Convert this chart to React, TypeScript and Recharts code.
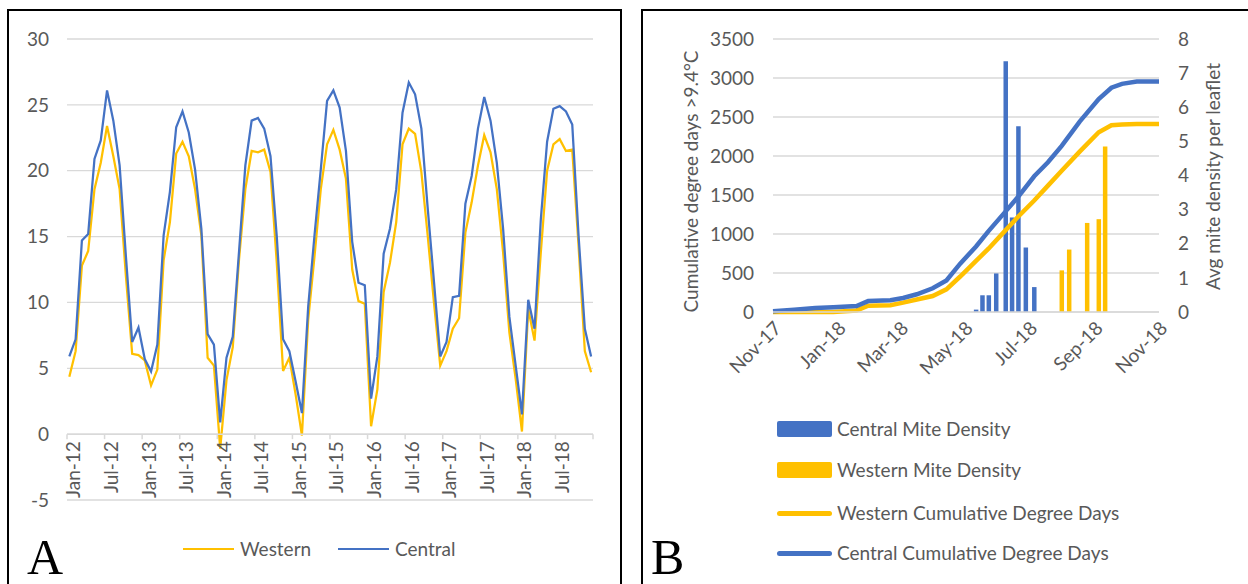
import React from 'react';
import { ComposedChart, LineChart, Line, Bar, XAxis, YAxis, CartesianGrid, Label } from 'recharts';

const TEXT = '#595959';
const GRID = '#d9d9d9';
const BLUE = '#4472C4';
const GOLD = '#FFC000';
const FONT = 'Lato, "Open Sans", sans-serif';
const FS = 19;

// ---------- Panel A data ----------
const monthTickLabels = ['Jan-12', 'Jul-12', 'Jan-13', 'Jul-13', 'Jan-14', 'Jul-14', 'Jan-15', 'Jul-15', 'Jan-16', 'Jul-16', 'Jan-17', 'Jul-17', 'Jan-18', 'Jul-18'];
const westernTemp = [
  4.35, 6.3, 12.8, 13.9, 18.6, 20.6, 23.4, 21.1, 18.6, 12.0,
  6.1, 6.0, 5.6, 3.7, 4.9, 13.2, 16.1, 21.3, 22.2, 21.1,
  18.6, 15.1, 5.8, 5.2, -1.1, 4.1, 6.6, 13.3, 18.6, 21.5,
  21.4, 21.6, 19.9, 13.0, 4.8, 5.8, 3.0, -0.1, 8.7, 13.5,
  18.6, 22.0, 23.1, 21.6, 19.4, 12.5, 10.1, 9.9, 0.6, 3.4,
  10.8, 13.0, 16.1, 22.0, 23.2, 22.8, 19.9, 15.1, 10.0, 5.2,
  6.3, 8.0, 8.8, 15.3, 17.6, 20.4, 22.7, 21.4, 18.6, 13.8,
  7.7, 4.2, 0.2, 9.5, 7.1, 13.8, 20.0, 22.0, 22.4, 21.5,
  21.6, 14.3, 6.3, 4.7,
];
const centralTemp = [
  5.9, 7.2, 14.7, 15.2, 20.9, 22.3, 26.1, 23.8, 20.4, 13.5,
  7.0, 8.1, 5.7, 4.75, 6.8, 15.1, 18.4, 23.3, 24.5, 22.9,
  20.1, 15.6, 7.6, 6.8, 0.9, 5.8, 7.4, 13.9, 20.4, 23.8,
  24.0, 23.2, 21.1, 15.0, 7.2, 6.3, 4.0, 1.6, 9.7, 15.1,
  20.1, 25.3, 26.1, 24.8, 21.5, 14.6, 11.5, 11.3, 2.7, 5.9,
  13.7, 15.6, 18.6, 24.4, 26.7, 25.8, 23.2, 17.2, 11.6, 5.9,
  7.0, 10.4, 10.5, 17.5, 19.6, 23.2, 25.6, 23.8, 20.6, 15.6,
  8.9, 5.2, 1.5, 10.2, 8.0, 16.3, 22.2, 24.7, 24.9, 24.5,
  23.5, 15.1, 8.0, 5.9,
];
const tempTicks = [-5, 0, 5, 10, 15, 20, 25, 30];

// ---------- Panel B data ----------
const dayTicks = [0, 61, 120, 181, 242, 304, 365];
const dayTickLabels = ['Nov-17', 'Jan-18', 'Mar-18', 'May-18', 'Jul-18', 'Sep-18', 'Nov-18'];
const cumDays = [0, 20, 40, 57, 79, 90, 111, 123, 136, 151, 164, 177, 192, 204, 220, 232, 247, 260, 273, 290, 308, 320, 330, 344, 365];
const centralCum = [10, 30, 50, 60, 77, 140, 150, 180, 227, 304, 405, 620, 840, 1040, 1290, 1480, 1740, 1920, 2130, 2441, 2730, 2875, 2925, 2955, 2955];
const westernCum = [0, 0, 0, 0, 20, 80, 88, 120, 160, 205, 290, 455, 655, 815, 1050, 1225, 1430, 1620, 1810, 2056, 2305, 2395, 2405, 2411, 2411];
const centralMiteDays = [192, 198, 204, 211, 220, 226, 232, 239, 247];
const centralMite = [0.07, 0.49, 0.49, 1.13, 7.35, 2.77, 5.44, 1.89, 0.73];
const westernMiteDays = [273, 280, 297, 308, 314];
const westernMite = [1.22, 1.83, 2.61, 2.72, 4.85];
const ddTicks = [0, 500, 1000, 1500, 2000, 2500, 3000, 3500];
const miteTicks = [0, 1, 2, 3, 4, 5, 6, 7, 8];

// ---------- tables ----------
const tempData = centralTemp.map((c, i) => ({ m: i, Western: westernTemp[i], Central: c }));
const monthTicks = Array.from({ length: monthTickLabels.length + 1 }, (_, k) => k * 6);

type Row = { day: number; cc?: number; wc?: number; cm?: number; wm?: number };
const rowMap = new Map<number, Row>();
const getRow = (d: number) => {
  if (!rowMap.has(d)) rowMap.set(d, { day: d });
  return rowMap.get(d) as Row;
};
cumDays.forEach((d, i) => { const r = getRow(d); r.cc = centralCum[i]; r.wc = westernCum[i]; });
centralMiteDays.forEach((d, i) => { getRow(d).cm = centralMite[i]; });
westernMiteDays.forEach((d, i) => { getRow(d).wm = westernMite[i]; });
const bData = Array.from(rowMap.values()).sort((a, b) => a.day - b.day);

// ---------- layout ----------
const A_W = 620;
const A_H = 584;
const A_M = { top: 39, right: 27, bottom: 84, left: 17 };
const A_YW = 50;
const A_yMin = -5;
const A_yMax = 30;
const A_zeroY = A_M.top + ((A_H - A_M.top - A_M.bottom) * (A_yMax - 0)) / (A_yMax - A_yMin);
const A_XH = 70;

const B_LEFT = 640;
const B_W = 600;
const B_H = 584;
const B_M = { top: 39, right: 21, bottom: 212, left: 73 };
const B_YW = 60;

const tickStyle = { fill: TEXT, fontSize: FS, fontFamily: FONT };

const LeftTitle = (props: any) => {
  const vb = props.viewBox || { x: 0, y: 0, width: 0, height: 0 };
  const cx = vb.x - 23;
  const cy = vb.y + vb.height / 2 + 6;
  return (
    <text x={cx} y={cy} transform={`rotate(-90, ${cx}, ${cy})`} textAnchor="middle" dominantBaseline="central" fill={TEXT} fontSize={FS} fontFamily={FONT}>
      Cumulative degree days &gt;9.4°C
    </text>
  );
};
const RightTitle = (props: any) => {
  const vb = props.viewBox || { x: 0, y: 0, width: 0, height: 0 };
  const cx = vb.x + 53;
  const cy = vb.y + vb.height / 2 + 1;
  return (
    <text x={cx} y={cy} transform={`rotate(-90, ${cx}, ${cy})`} textAnchor="middle" dominantBaseline="central" fill={TEXT} fontSize={FS} fontFamily={FONT}>
      Avg mite density per leaflet
    </text>
  );
};

const legendText: React.CSSProperties = { color: TEXT, fontSize: FS, fontFamily: FONT, whiteSpace: 'nowrap', lineHeight: '22px' };

export default function App() {
  return (
    <div style={{ position: 'absolute', left: 0, top: 0, width: 1248, height: 584, background: '#fff', overflow: 'hidden', fontFamily: FONT }}>
      {/* Panel A frame */}
      <div style={{ position: 'absolute', left: 7, top: 9, width: 611, height: 640, border: '2.5px solid #000' }} />
      {/* Panel B frame */}
      <div style={{ position: 'absolute', left: 641, top: 9, width: 700, height: 640, border: '2.5px solid #000' }} />

      {/* Panel A lines */}
      <div style={{ position: 'absolute', left: 0, top: 0 }}>
        <LineChart width={A_W} height={A_H} data={tempData} margin={A_M}>
          <CartesianGrid vertical={false} stroke={GRID} strokeWidth={1.3} />
          <XAxis dataKey="m" type="number" domain={[-0.37, 83.3]} hide />
          <YAxis
            type="number"
            domain={[A_yMin, A_yMax]}
            ticks={tempTicks}
            width={A_YW}
            axisLine={false}
            tickLine={false}
            tickSize={0}
            tickMargin={18}
            tick={tickStyle}
            interval={0}
          />
          <Line type="linear" dataKey="Western" stroke={GOLD} strokeWidth={2.25} dot={false} isAnimationActive={false} />
          <Line type="linear" dataKey="Central" stroke={BLUE} strokeWidth={2.25} dot={false} isAnimationActive={false} />
        </LineChart>
      </div>
      {/* Panel A category axis crossing at 0 */}
      <div style={{ position: 'absolute', left: 0, top: 0, pointerEvents: 'none' }}>
        <LineChart
          width={A_W}
          height={A_zeroY + A_XH}
          data={tempData}
          margin={{ top: A_M.top, right: A_M.right, left: A_M.left + A_YW, bottom: 0 }}
        >
          <XAxis
            dataKey="m"
            type="number"
            domain={[0, 84]}
            ticks={monthTicks}
            interval={0}
            height={A_XH}
            angle={-90}
            textAnchor="end"
            tickSize={5}
            tickMargin={2}
            axisLine={{ stroke: GRID, strokeWidth: 1.5 }}
            tickLine={{ stroke: GRID, strokeWidth: 1.5 }}
            tick={tickStyle}
            tickFormatter={(v: number) => monthTickLabels[v / 6] ?? ''}
          />
          <YAxis hide domain={[0, 30]} />
        </LineChart>
      </div>

      {/* Panel A legend */}
      <div style={{ position: 'absolute', left: 183, top: 538, display: 'flex', alignItems: 'center' }}>
        <div style={{ width: 51, height: 2.25, background: GOLD, marginRight: 6 }} />
        <span style={legendText}>Western</span>
      </div>
      <div style={{ position: 'absolute', left: 338, top: 538, display: 'flex', alignItems: 'center' }}>
        <div style={{ width: 51, height: 2.25, background: BLUE, marginRight: 6 }} />
        <span style={legendText}>Central</span>
      </div>
      <div style={{ position: 'absolute', left: 27, top: 527, fontFamily: '"Liberation Serif", serif', fontSize: 50, lineHeight: '60px', color: '#000' }}>A</div>

      {/* Panel B */}
      <div style={{ position: 'absolute', left: B_LEFT, top: 0 }}>
        <ComposedChart width={B_W} height={B_H} data={bData} margin={B_M}>
          <CartesianGrid vertical={false} yAxisId="left" stroke={GRID} strokeWidth={1.3} />
          <XAxis
            dataKey="day"
            type="number"
            domain={[0, 365]}
            ticks={dayTicks}
            interval={0}
            height={60}
            angle={-45}
            textAnchor="end"
            tickLine={false}
            axisLine={{ stroke: GRID, strokeWidth: 1.3 }}
            tick={tickStyle}
            tickFormatter={(v: number) => dayTickLabels[dayTicks.indexOf(v)] ?? ''}
          />
          <YAxis
            yAxisId="left"
            orientation="left"
            type="number"
            domain={[0, 3500]}
            ticks={ddTicks}
            interval={0}
            width={B_YW}
            axisLine={false}
            tickLine={false}
            tickSize={0}
            tickMargin={19}
            tick={tickStyle}
            label={<Label content={<LeftTitle />} />}
          />
          <YAxis
            yAxisId="right"
            orientation="right"
            type="number"
            domain={[0, 8]}
            ticks={miteTicks}
            interval={0}
            width={B_YW}
            axisLine={false}
            tickLine={false}
            tickSize={0}
            tickMargin={19}
            tick={tickStyle}
            label={<Label content={<RightTitle />} />}
          />
          <Bar yAxisId="right" dataKey="cm" stackId="mite" fill={BLUE} barSize={4.5} isAnimationActive={false} />
          <Bar yAxisId="right" dataKey="wm" stackId="mite" fill={GOLD} barSize={4.5} isAnimationActive={false} />
          <Line yAxisId="left" type="linear" dataKey="wc" stroke={GOLD} strokeWidth={4.5} dot={false} connectNulls isAnimationActive={false} />
          <Line yAxisId="left" type="linear" dataKey="cc" stroke={BLUE} strokeWidth={4.5} dot={false} connectNulls isAnimationActive={false} />
        </ComposedChart>
      </div>

      {/* Panel B legend */}
      {[
        { label: 'Central Mite Density', color: BLUE, kind: 'bar', cy: 429 },
        { label: 'Western Mite Density', color: GOLD, kind: 'bar', cy: 470 },
        { label: 'Western Cumulative Degree Days', color: GOLD, kind: 'line', cy: 513 },
        { label: 'Central Cumulative Degree Days', color: BLUE, kind: 'line', cy: 553 },
      ].map((it) => (
        <div key={it.label} style={{ position: 'absolute', left: 777, top: it.cy - 11, height: 22, display: 'flex', alignItems: 'center' }}>
          <div
            style={{
              width: 55,
              height: it.kind === 'bar' ? 16 : 5,
              borderRadius: it.kind === 'bar' ? 2 : 3,
              background: it.color,
              marginRight: 5,
            }}
          />
          <span style={legendText}>{it.label}</span>
        </div>
      ))}
      <div style={{ position: 'absolute', left: 651, top: 527, fontFamily: '"Liberation Serif", serif', fontSize: 50, lineHeight: '60px', color: '#000' }}>B</div>
    </div>
  );
}
